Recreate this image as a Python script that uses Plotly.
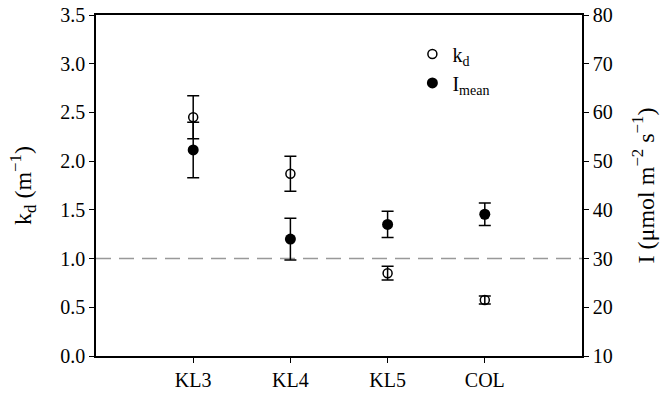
import plotly.graph_objects as go

sites = ["KL3", "KL4", "KL5", "COL"]
kd = [2.45, 1.87, 0.85, 0.575]
kd_err = [0.22, 0.18, 0.07, 0.04]
imean = [52.3, 34.0, 37.0, 39.1]
imean_err = [5.7, 4.3, 2.7, 2.3]
threshold_kd = 1.0

FONT = "Liberation Serif"

fig = go.Figure()
fig.add_trace(go.Scatter(
    x=sites, y=kd, mode="markers", name="k<sub>d</sub>",
    marker=dict(symbol="circle-open", size=9, color="black", line=dict(width=1.5, color="black")),
    error_y=dict(type="data", array=kd_err, color="black", thickness=1.5, width=6),
    yaxis="y",
))
fig.add_trace(go.Scatter(
    x=sites, y=imean, mode="markers", name="I<sub>mean</sub>",
    marker=dict(symbol="circle", size=11, color="black"),
    error_y=dict(type="data", array=imean_err, color="black", thickness=1.5, width=6),
    yaxis="y2",
))

fig.add_shape(type="line", xref="paper", yref="y", x0=0, x1=1, y0=threshold_kd, y1=threshold_kd,
              line=dict(color="#999999", width=1.5, dash="15px,8px"), layer="below")

fig.update_layout(
    width=664, height=395,
    margin=dict(l=96, r=82, t=15, b=39, autoexpand=False),
    paper_bgcolor="white", plot_bgcolor="white",
    font=dict(family=FONT, size=20, color="black"),
    showlegend=True,
    legend=dict(x=0.651, y=0.943, xanchor="left", yanchor="top", bgcolor="rgba(0,0,0,0)",
                font=dict(family=FONT, size=20), itemsizing="trace", itemwidth=30,
                tracegroupgap=0),
    xaxis=dict(type="category", range=[-1, 4], showline=True, linecolor="black", linewidth=1.5,
               mirror=True, ticks="outside", ticklen=5, tickcolor="black", showgrid=False,
               zeroline=False, automargin=False),
    yaxis=dict(range=[0, 3.5], dtick=0.5, tickformat=".1f", showline=True, linecolor="black",
               linewidth=1.5, ticks="outside", ticklen=5, tickcolor="black", showgrid=False,
               zeroline=False, automargin=False,
               title=dict(text="k<sub>d</sub> (m<sup>−1</sup>)", standoff=22)),
    yaxis2=dict(range=[10, 80], dtick=10, overlaying="y", side="right", showline=True,
                linecolor="black", linewidth=1.5, ticks="outside", ticklen=5, tickcolor="black",
                showgrid=False, zeroline=False, automargin=False,
                title=dict(text="I (μmol m<sup>−2</sup> s<sup>−1</sup>)", standoff=25)),
)

fig.write_html("out.html", config={"displayModeBar": False},
               post_script="document.body.style.margin='0';document.body.style.overflow='hidden';")
